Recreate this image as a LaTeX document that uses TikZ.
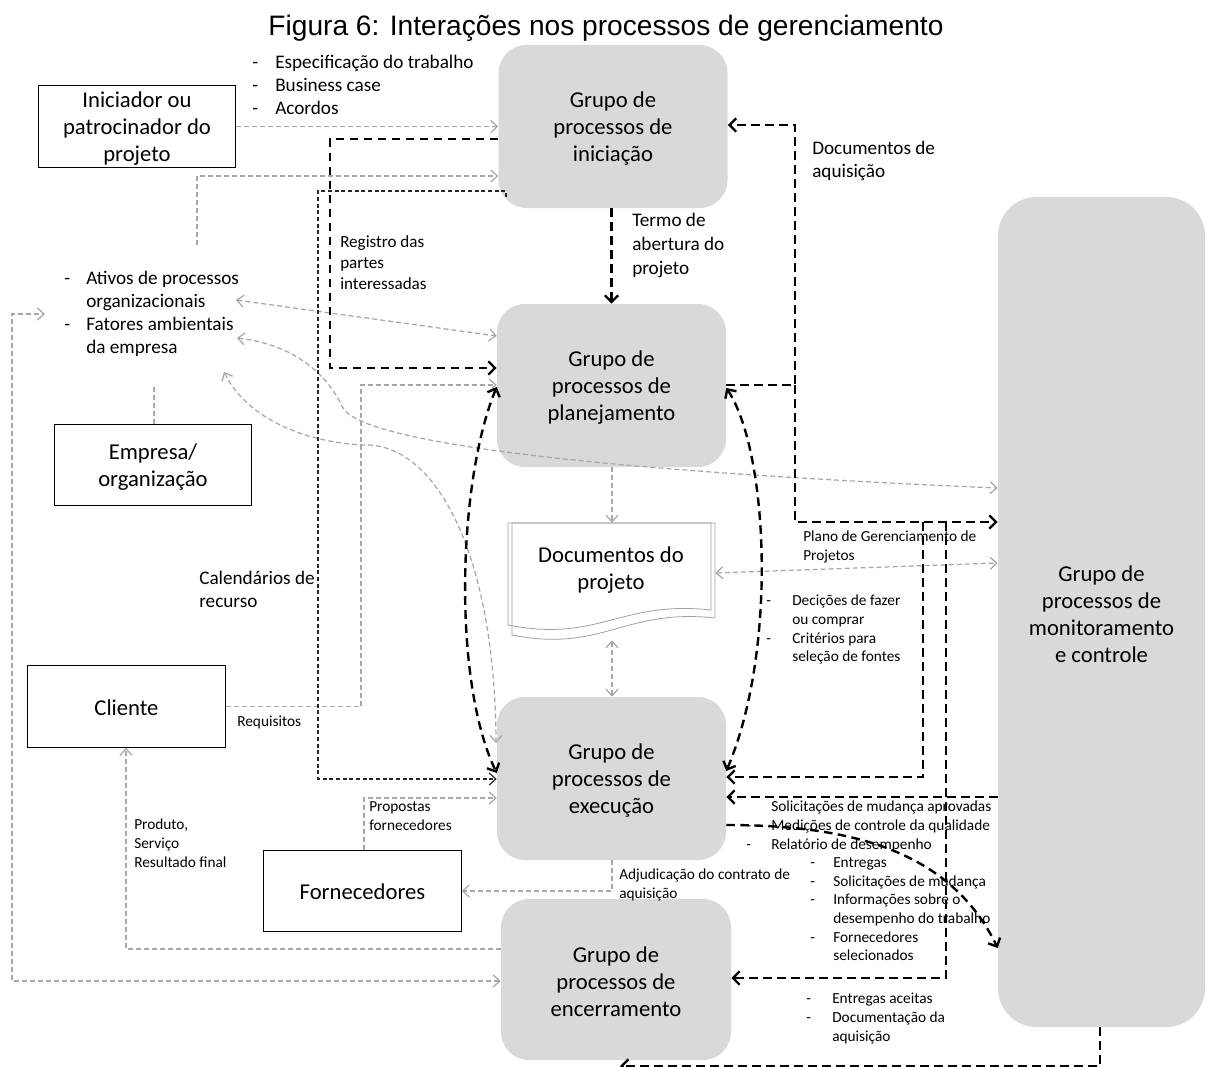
\documentclass[tikz,border=0pt]{standalone}
\usepackage{fontspec}
\setmainfont{Carlito}
\newfontfamily\titlefont{Liberation Sans}
\usetikzlibrary{arrows.meta,calc}

\definecolor{boxgray}{HTML}{D9D9D9}
\definecolor{linegray}{HTML}{A6A6A6}
\definecolor{docgray}{HTML}{A0A0A0}

% label fonts
\newcommand{\lblmed}{\fontsize{14.4}{17.4}\selectfont}
\newcommand{\lblreg}{\fontsize{12.8}{15.75}\selectfont}
\newcommand{\lblsml}{\fontsize{11.5}{14}\selectfont}
% list helpers: a dash in a fixed-width slot, or an empty slot
\newcommand{\lstdash}[1]{\makebox[#1][l]{-}}
\newcommand{\lstgap}[1]{\hspace*{#1}}

\tikzset{
  grp/.style={fill=boxgray, rounded corners=21pt, minimum width=171.75pt,
    minimum height=122.25pt, inner sep=0pt},
  ext/.style={draw=black, line width=0.9pt, fill=white, minimum width=148pt,
    minimum height=61pt, inner sep=0pt},
  boxtxt/.style={align=center, inner sep=0pt, font=\fontsize{17}{20.25}\selectfont},
  lbl/.style={anchor=north west, inner sep=0pt, align=left},
  gline/.style={draw=linegray, line width=0.9pt, dash pattern=on 3.75pt off 2.25pt},
  dline/.style={draw=black!85, line width=0.9pt, dash pattern=on 3pt off 2pt},
  bline/.style={draw=black, line width=1.8pt, dash pattern=on 6.5pt off 4pt},
  gyend/.style={-{Straight Barb[length=5pt,width=9pt]}},
  gyboth/.style={{Straight Barb[length=5pt,width=9pt]}-{Straight Barb[length=5pt,width=9pt]}},
  bkend/.style={-{Straight Barb[length=5pt,width=10pt]}},
  bkboth/.style={{Straight Barb[length=5pt,width=10pt]}-{Straight Barb[length=5pt,width=10pt]}},
}

\begin{document}
\begin{tikzpicture}[x=0.75pt,y=-0.75pt]
\fill[white] (0,0) rectangle (1207,1067);
\useasboundingbox (0,0) rectangle (1207,1067);

% title
\node (title) at (606,28) {\titlefont\fontsize{21.1}{25}\selectfont Figura 6: Interações nos processos de gerenciamento};

% process groups
\node[grp] (ini) at (613,126.5) {};
\node[grp] (plan) at (611.5,385.5) {};
\node[grp] (exe) at (611.5,778.5) {};
\node[grp, minimum width=172.5pt, minimum height=120.75pt] (enc) at (616,979.5) {};
\node[grp, minimum width=155.25pt, minimum height=622.5pt, rounded corners=29pt] (mon) at (1101.5,612) {};
\node[boxtxt] (initxt) at ($(ini)+(0,2.5)$) {Grupo de\\processos de\\iniciação};
\node[boxtxt] (plantxt) at ($(plan)+(0,2.5)$) {Grupo de\\processos de\\planejamento};
\node[boxtxt] (exetxt) at ($(exe)+(0,2.5)$) {Grupo de\\processos de\\execução};
\node[boxtxt] (enctxt) at ($(enc)+(0,2.5)$) {Grupo de\\processos de\\encerramento};
\node[boxtxt] (montxt) at ($(mon)+(0,2.5)$) {Grupo de\\processos de\\monitoramento\\e controle};

% external parties
\node[ext] (spon) at (137,126.5) {};
\node[ext] (org) at (153,465) {};
\node[ext] (cli) at (126.5,706.5) {};
\node[ext] (forn) at (362.5,891) {};
\node[boxtxt] (spontxt) at ($(spon)+(0,2.5)$) {Iniciador ou\\patrocinador do\\projeto};
\node[boxtxt] (orgtxt) at ($(org)+(0,2)$) {Empresa/\\organização};
\node[boxtxt] (clitxt) at ($(cli)+(0,1)$) {Cliente};
\node[boxtxt] (forntxt) at ($(forn)+(0,0.5)$) {Fornecedores};

% project documents (two stacked sheets)
\filldraw[draw=docgray, fill=white, line width=0.6pt] (512,523) -- (715,523) -- (715,618)
  .. controls (624,608) and (603,653) .. (512,635) -- cycle;
\draw[draw=docgray, line width=0.6pt] (508,523) -- (711,523) -- (711,610)
  .. controls (620,600) and (599,643) .. (508,625) -- cycle;
\node[minimum width=155.25pt, minimum height=87.75pt, inner sep=0pt] (docs) at (611.5,581.5) {};
\node[boxtxt] (docstext) at (611,570.5) {Documentos do\\projeto};

% labels
\node[lbl, font=\lblmed] (lspec) at (252,54.5) {\lstdash{17.25pt}Especificação do trabalho\\\lstdash{17.25pt}Business case\\\lstdash{17.25pt}Acordos};
\node[lbl, font=\lblmed] (latv) at (64,270.5) {\lstdash{16.5pt}Ativos de processos\\\lstgap{16.5pt}organizacionais\\\lstdash{16.5pt}Fatores ambientais\\\lstgap{16.5pt}da empresa};
\node[lbl, font=\fontsize{14.4}{18}\selectfont] (lterm) at (632,212.5) {Termo de\\abertura do\\projeto};
\node[lbl, font=\lblmed] (laq) at (812,140.5) {Documentos de\\aquisição};
\node[lbl, font=\lblreg] (lreg) at (340,235) {Registro das\\partes\\interessadas};
\node[lbl, font=\lblmed] (lcal) at (199,570.5) {Calendários de\\recurso};
\node[lbl, font=\lblsml] (lreq) at (237,716) {Requisitos};
\node[lbl, font=\lblsml] (lplano) at (803,531) {Plano de Gerenciamento de\\Projetos};
\node[lbl, font=\lblsml] (ldec) at (766,595) {\lstdash{19.5pt}Decições de fazer\\\lstgap{19.5pt}ou comprar\\\lstdash{19.5pt}Critérios para\\\lstgap{19.5pt}seleção de fontes};
\node[lbl, font=\lblsml] (lprop) at (369,801.5) {Propostas\\fornecedores};
\node[lbl, font=\lblsml] (lprod) at (134,819) {Produto,\\Serviço\\Resultado final};
\node[lbl, font=\lblsml] (ladj) at (619,868.5) {Adjudicação do contrato de\\aquisição};
\node[lbl, font=\lblsml] (lsol) at (746,801) {\lstgap{18.75pt}Solicitações de mudança aprovadas\\\lstdash{18.75pt}Medições de controle da qualidade\\\lstdash{18.75pt}Relatório de desempenho};
\node[lbl, font=\lblsml] (lent) at (810,857.5) {\lstdash{17.25pt}Entregas\\\lstdash{17.25pt}Solicitações de mudança\\\lstdash{17.25pt}Informações sobre o\\\lstgap{17.25pt}desempenho do trabalho\\\lstdash{17.25pt}Fornecedores\\\lstgap{17.25pt}selecionados};
\node[lbl, font=\lblsml] (lacc) at (806,993) {\lstdash{19.5pt}Entregas aceitas\\\lstdash{19.5pt}Documentação da\\\lstgap{19.5pt}aquisição};

% free ends of connectors
\coordinate (atvtop) at (197,245);
\coordinate (atv) at (236,300);
\coordinate (fat) at (237,338);
\coordinate (emp) at (224,372);
\coordinate (atvleft) at (45,314);
\coordinate (exeleft) at (496,743);
\coordinate (inicorner) at (506,197);
\coordinate (encbottom) at (620,1066);

% light grey flows
\draw[gline,gyend] (spon.east) -- (ini.west |- spon.east);
\draw[gline,gyend] (atvtop) -- (197,176) -- (ini.west |- 0,176);
\draw[gline,gyboth] (atv) -- (plan.west |- 0,336);
\draw[gline,gyboth] (fat) .. controls (300,345) and (330,380) .. (343,408)
  .. controls (365,445) and (620,472) .. (mon.west |- 0,488);
\draw[gline,gyboth] (emp) .. controls (250,425) and (320,445) .. (370,445)
  .. controls (440,450) and (495,560) .. (exeleft);
\draw[gline,gyend] (cli.east) -- (361,706.5) -- (361,385) -- (plan.west |- 0,385);
\draw[gline,gyend] (plan.south -| 612,0) -- (docs.north -| 612,0);
\draw[gline,gyboth] (docs.south -| 612,0) -- (exe.north -| 612,0);
\draw[gline,gyboth] (docs.east |- 0,573) -- (mon.west |- 0,563);
\draw[gline,gyend] (forn.north -| 364,0) -- (364,798) -- (exe.west |- 0,798);
\draw[gline,gyend] (exe.south -| 612,0) -- (612,891) -- (forn.east);
\draw[gline,gyend] (enc.west |- 0,949) -- (126,949) -- (cli.south -| 126,0);
\draw[gline,gyboth] (enc.west |- 0,981) -- (12,981) -- (12,314) -- (atvleft);
\draw[gline] (org.north -| 154,0) -- (154,386);

% thin dark flow: initiation to execution
\draw[dline,-{Straight Barb[length=5pt,width=9pt]}] (inicorner) -- (506,191) -- (318,191) -- (318,779) -- (exe.west |- 0,779);

% heavy flows
\draw[bline,bkend] (ini.west |- 0,139) -- (330,139) -- (330,368) -- (plan.west |- 0,368);
\draw[bline,bkend] (plan.north |- ini.south) -- (plan.north);
\draw[bline,bkboth] (plan.west |- 0,387) .. controls (458,480) and (452,680) .. (exe.west |- 0,773);
\draw[bline,bkboth] (plan.east |- 0,388) .. controls (768,450) and (778,650) .. (exe.east |- 0,771);
\draw[bline,bkend] (plan.east |- 0,385) -- (795,385) -- (795,125) -- (ini.east |- 0,125);
\draw[bline,bkend] (795,385) -- (795,522) -- (mon.west |- 0,522);
\draw[bline,bkend] (923,522) -- (923,777) -- (exe.east |- 0,777);
\draw[bline,bkend] (946,522) -- (946,978) -- (enc.east |- 0,978);
\draw[bline,bkend] (mon.west |- 0,797) -- (exe.east |- 0,797);
\draw[bline,bkend] (exe.east |- 0,825) .. controls (850,825) and (950,850) .. (mon.west |- 0,948);
\draw[bline,bkend] (mon.south -| 1100,0) -- (1100,1066) -- (encbottom);
\end{tikzpicture}
\end{document}
